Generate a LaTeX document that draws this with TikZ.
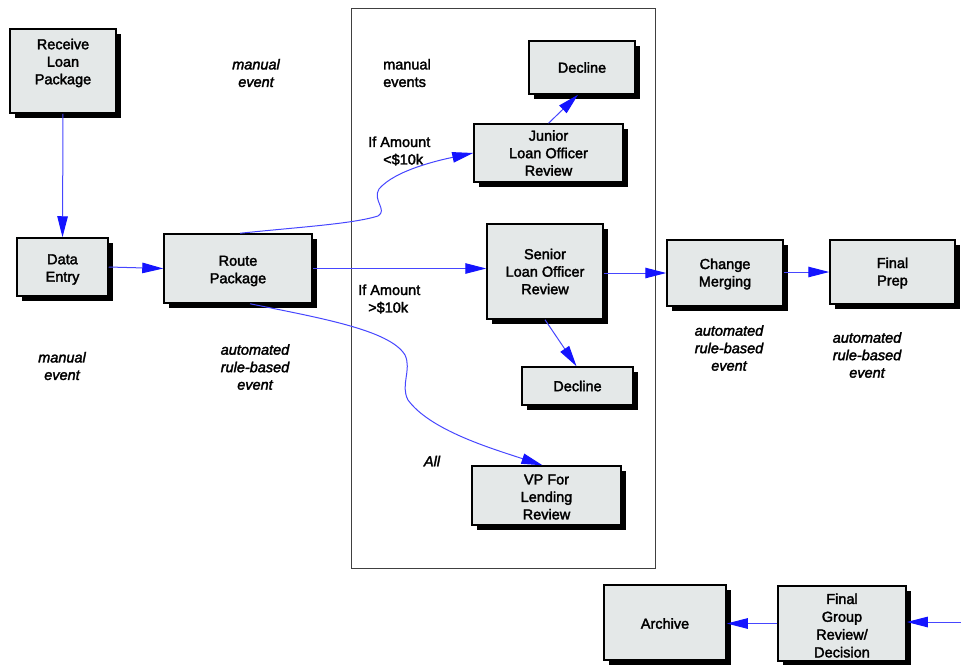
\documentclass[tikz,border=0pt]{standalone}
\usepackage{fontspec}
\setmainfont{Liberation Sans}
\newfontfamily\heavyfont{Liberation Sans}[FakeBold=2.2]
\usetikzlibrary{arrows.meta,shadows,calc}
\definecolor{boxfill}{RGB}{228,232,232}
\definecolor{arrowblue}{RGB}{70,70,255}
\definecolor{headblue}{RGB}{20,20,255}
\tikzset{
  stepbox/.style={draw=black, line width=1.5pt, fill=boxfill, inner sep=0pt,
    general shadow={fill=black, shadow xshift=5pt, shadow yshift=-5pt}},
  boxtext/.style={align=center, font=\heavyfont\fontsize{14.5}{17.5}\selectfont, inner sep=0pt},
  arr/.style={draw=arrowblue, line width=1pt,
    -{Triangle[length=21pt,width=10.5pt,color=headblue,fill=headblue]}},
  lbl/.style={align=left, font=\heavyfont\fontsize{14.5}{17.5}\selectfont, inner sep=0pt},
  ilbl/.style={align=center, font=\heavyfont\fontsize{14.5}{17.5}\selectfont\itshape, inner sep=0pt},
}
\begin{document}
\begin{tikzpicture}[x=1pt,y=-1pt]
\useasboundingbox (0,0) rectangle (961,664);
% frame
\node[draw=black!75, line width=0.8pt, minimum width=304pt, minimum height=560pt, inner sep=0pt] (frame) at (503,288) {};
% boxes
\node[stepbox, minimum width=106pt, minimum height=84pt] (recv) at (63,71) {};
\node[stepbox, minimum width=91pt, minimum height=58pt] (data) at (62.5,267) {};
\node[stepbox, minimum width=148pt, minimum height=69pt] (route) at (238,268.5) {};
\node[stepbox, minimum width=106pt, minimum height=53pt] (decl1) at (582,67.5) {};
\node[stepbox, minimum width=149pt, minimum height=58pt] (junior) at (548.5,153) {};
\node[stepbox, minimum width=116pt, minimum height=95pt] (senior) at (545,271.5) {};
\node[stepbox, minimum width=111pt, minimum height=38pt] (decl2) at (577.5,386) {};
\node[stepbox, minimum width=149pt, minimum height=59pt] (vp) at (546.5,495.5) {};
\node[stepbox, minimum width=116pt, minimum height=66pt] (change) at (725,273) {};
\node[stepbox, minimum width=125pt, minimum height=64pt] (final) at (892.5,272) {};
\node[stepbox, minimum width=122pt, minimum height=75pt] (archive) at (665,622.5) {};
\node[stepbox, minimum width=128pt, minimum height=75pt] (group) at (842,623.5) {};
% box texts
\node[boxtext] (recv-t) at ($(recv)+(0,-8)$) {Receive\\Loan\\Package};
\node[boxtext] (data-t) at ($(data)+(0,2.5)$) {Data\\Entry};
\node[boxtext] (route-t) at ($(route)+(0,2.5)$) {Route\\Package};
\node[boxtext] (decl1-t) at ($(decl1)+(0,0)$) {Decline};
\node[boxtext] (junior-t) at ($(junior)+(0,0)$) {Junior\\Loan Officer\\Review};
\node[boxtext] (senior-t) at ($(senior)+(0,0)$) {Senior\\Loan Officer\\Review};
\node[boxtext] (decl2-t) at (decl2) {Decline};
\node[boxtext] (vp-t) at ($(vp)+(0,1.5)$) {VP For\\Lending\\Review};
\node[boxtext] (change-t) at ($(change)+(0,1)$) {Change\\Merging};
\node[boxtext] (final-t) at ($(final)+(0,1)$) {Final\\Prep};
\node[boxtext] (archive-t) at ($(archive)+(0,1)$) {Archive};
\node[boxtext, font=\heavyfont\fontsize{14.5}{17.8}\selectfont] (group-t) at ($(group)+(0,2)$) {Final\\Group\\Review/\\Decision};
\coordinate (offright) at (961,622);
% labels
\node[ilbl] (l1) at (256,73) {manual\\event};
\node[lbl] (l2) at (407,73) {manual\\events};
\node[lbl, anchor=west] (l3) at (368,151) {If Amount\\\hspace*{15pt}<\$10k};
\node[lbl, anchor=west] (l4) at (358,299) {If Amount\\\hspace*{10pt}>\$10k};
\node[ilbl] (l5) at (62,366) {manual\\event};
\node[ilbl] (l6) at (255,367) {automated\\rule-based\\event};
\node[ilbl] (l7) at (729,348) {automated\\rule-based\\event};
\node[ilbl] (l8) at (867,355) {automated\\rule-based\\event};
\node[ilbl] (l9) at (432,461) {All};
% connectors
\draw[arr] (recv.south) -- (data.north);
\draw[arr] (data.east) -- (route.west);
\draw[arr] (route.east) -- (route.east -| senior.west);
\draw[arr] ($(route.north)+(2,0)$) .. controls (300,227) and (352,224) .. (378,216)
   .. controls (388,210) and (372,200) .. (379,189)
   .. controls (395,170) and (440,160) .. (junior.west);
\draw[arr] ($(route.south)+(12,0)$) .. controls (320,318) and (390,330) .. (405,355)
   .. controls (412,370) and (400,385) .. (408,400)
   .. controls (430,430) and (490,448) .. ($(vp.north)+(-4,0)$);
\draw[arr] (junior.north) -- ($(decl1.south)+(-4,0)$);
\draw[arr] (senior.south) -- ($(decl2.north)+(-1,0)$);
\draw[arr] (senior.east |- change.west) -- (change.west);
\draw[arr] (change.east |- final.west) -- (final.west);
\draw[arr] (offright) -- (offright -| group.east);
\draw[arr] (group.west) -- (group.west -| archive.east);
\end{tikzpicture}
\end{document}
